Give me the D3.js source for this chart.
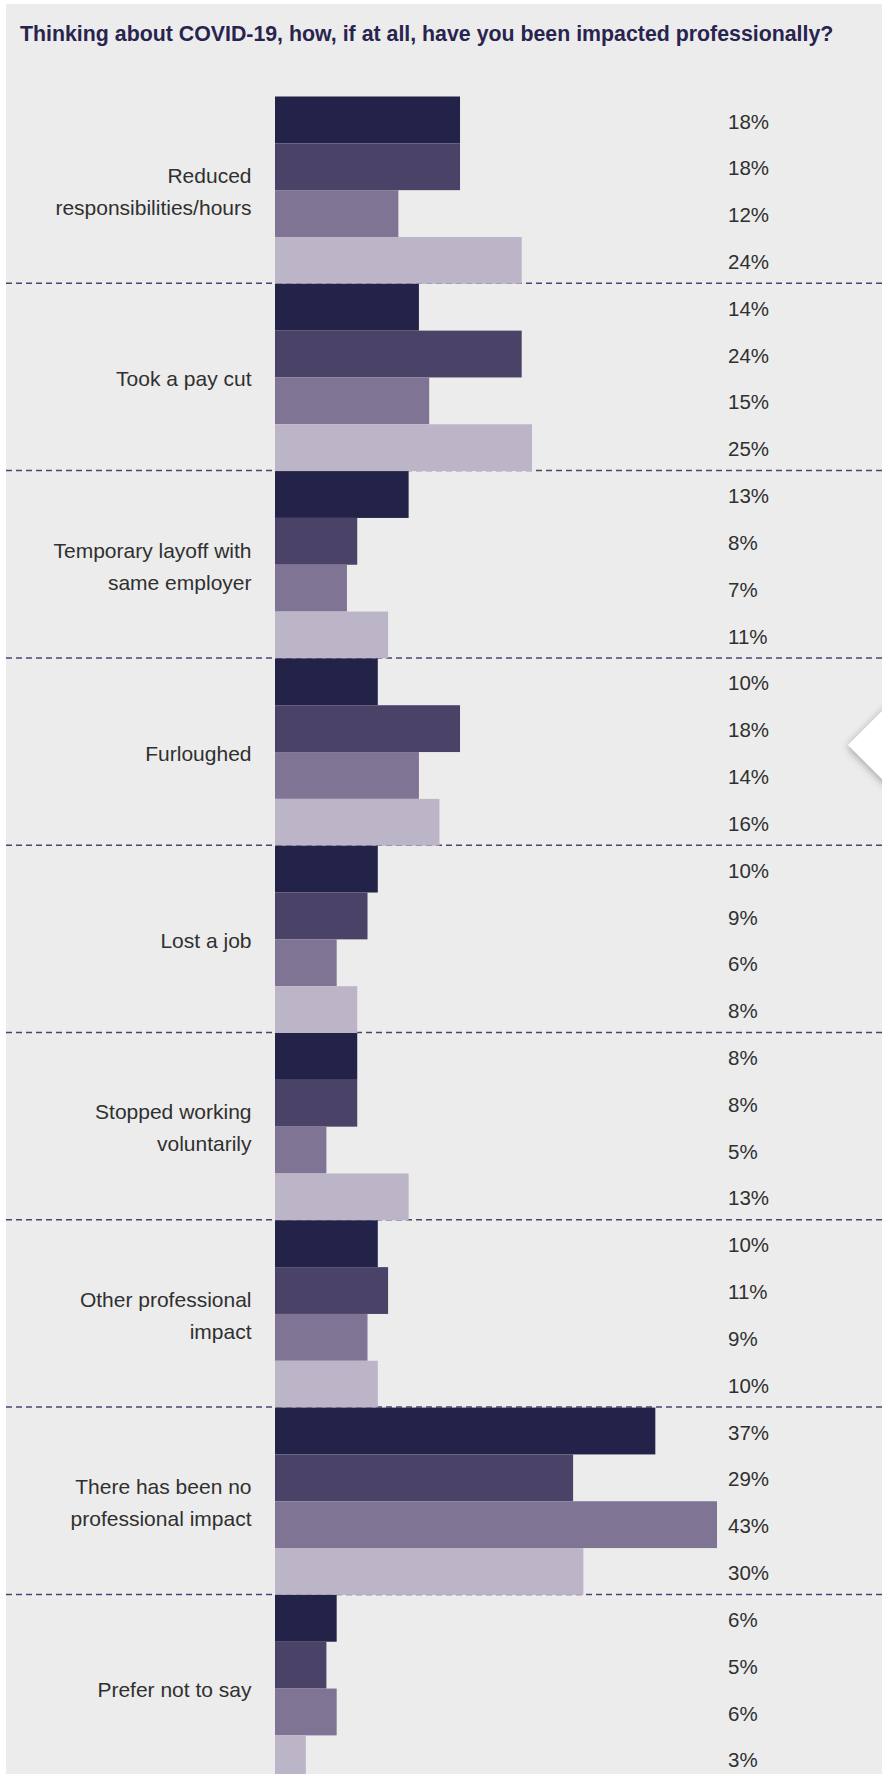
<!DOCTYPE html>
<html>
<head>
<meta charset="utf-8">
<script src="https://cdn.jsdelivr.net/npm/d3@7"></script>
<style>
  html, body { margin: 0; padding: 0; background: #ffffff; }
  svg { display: block; }
</style>
</head>
<body>
<svg id="chart" width="882" height="1774"></svg>
<script>
const title = "Thinking about COVID-19, how, if at all, have you been impacted professionally?";
const categories = [
  "Reduced responsibilities/hours",
  "Took a pay cut",
  "Temporary layoff with same employer",
  "Furloughed",
  "Lost a job",
  "Stopped working voluntarily",
  "Other professional impact",
  "There has been no professional impact",
  "Prefer not to say"
];
const categoryLines = [
  ["Reduced", "responsibilities/hours"],
  ["Took a pay cut"],
  ["Temporary layoff with", "same employer"],
  ["Furloughed"],
  ["Lost a job"],
  ["Stopped working", "voluntarily"],
  ["Other professional", "impact"],
  ["There has been no", "professional impact"],
  ["Prefer not to say"]
];
const seriesNames = ["Series 1", "Series 2", "Series 3", "Series 4"];
const series1 = [18, 14, 13, 10, 10, 8, 10, 37, 6];
const series2 = [18, 24, 8, 18, 9, 8, 11, 29, 5];
const series3 = [12, 15, 7, 14, 6, 5, 9, 43, 6];
const series4 = [24, 25, 11, 16, 8, 13, 10, 30, 3];
const seriesValues = [series1, series2, series3, series4];
const colors = ["#232249", "#4b4267", "#7f7493", "#bcb5c7"];

const W = 882, H = 1774;
const FONT = "'Liberation Sans', Arial, Helvetica, sans-serif";
const svg = d3.select("#chart");

// filter for arrow shadow
const defs = svg.append("defs");
const f = defs.append("filter").attr("id", "shadow").attr("x", "-50%").attr("y", "-50%").attr("width", "200%").attr("height", "200%");
f.append("feGaussianBlur").attr("in", "SourceAlpha").attr("stdDeviation", 4).attr("result", "b");
f.append("feOffset").attr("in", "b").attr("dx", 0).attr("dy", 2).attr("result", "o");
f.append("feComponentTransfer").attr("in", "o").attr("result", "o2")
  .append("feFuncA").attr("type", "linear").attr("slope", 0.35);
const fm = f.append("feMerge");
fm.append("feMergeNode").attr("in", "o2");
fm.append("feMergeNode").attr("in", "SourceGraphic");

// panel background
svg.append("rect").attr("x", 6).attr("y", 4).attr("width", W - 6).attr("height", H - 4).attr("fill", "#ececec");

// title
const t = svg.append("text")
  .attr("x", 20).attr("y", 41)
  .attr("font-family", FONT)
  .attr("font-weight", "bold")
  .attr("font-size", 18)
  .attr("fill", "#28244f")
  .text(title);
const tw = t.node().getComputedTextLength();
t.attr("font-size", 18 * 814 / tw);

// scales
const top0 = 96.5, groupH = 187.3;
const y0 = d3.scaleBand().domain(categories).range([top0, top0 + groupH * categories.length]).padding(0);
const y1 = d3.scaleBand().domain(seriesNames).range([0, y0.bandwidth()]).padding(0);
const x = d3.scaleLinear().domain([0, 43]).range([275, 717]);

// dashed separators
const seps = categories.slice(1);
svg.append("g").selectAll("line").data(seps).join("line")
  .attr("x1", 6).attr("x2", W)
  .attr("y1", d => y0(d) - 0.5).attr("y2", d => y0(d) - 0.5)
  .attr("stroke", "#4a4470").attr("stroke-width", 1.5)
  .attr("stroke-dasharray", "6,4");

// bars
const groups = svg.append("g").selectAll("g").data(categories).join("g")
  .attr("transform", d => `translate(0,${y0(d)})`);

groups.selectAll("rect").data((d, i) => seriesNames.map((s, j) => ({ s, v: seriesValues[j][i], j })))
  .join("rect")
  .attr("x", x(0))
  .attr("y", d => y1(d.s))
  .attr("width", d => x(d.v) - x(0))
  .attr("height", y1.bandwidth())
  .attr("fill", d => colors[d.j]);

// value labels
groups.selectAll("text.val").data((d, i) => seriesNames.map((s, j) => ({ s, v: seriesValues[j][i] })))
  .join("text").attr("class", "val")
  .attr("x", 728)
  .attr("y", d => y1(d.s) + y1.bandwidth() / 2)
  .attr("dy", "0.42em")
  .attr("font-family", FONT)
  .attr("font-size", 20.5)
  .attr("fill", "#303030")
  .text(d => d.v + "%");

// category labels
groups.each(function (d, i) {
  const lines = categoryLines[i];
  const lh = 32;
  const cy = y0.bandwidth() / 2;
  const g = d3.select(this);
  lines.forEach((ln, k) => {
    g.append("text")
      .attr("x", 251.5)
      .attr("y", cy + (k - (lines.length - 1) / 2) * lh)
      .attr("dy", "0.42em")
      .attr("text-anchor", "end")
      .attr("font-family", FONT)
      .attr("font-size", 21)
      .attr("fill", "#303030")
      .text(ln);
  });
});

// navigation arrow decoration at right edge
svg.append("polygon")
  .attr("points", "848,745 890,703 890,787")
  .attr("fill", "#ffffff")
  .attr("filter", "url(#shadow)");
</script>
</body>
</html>
